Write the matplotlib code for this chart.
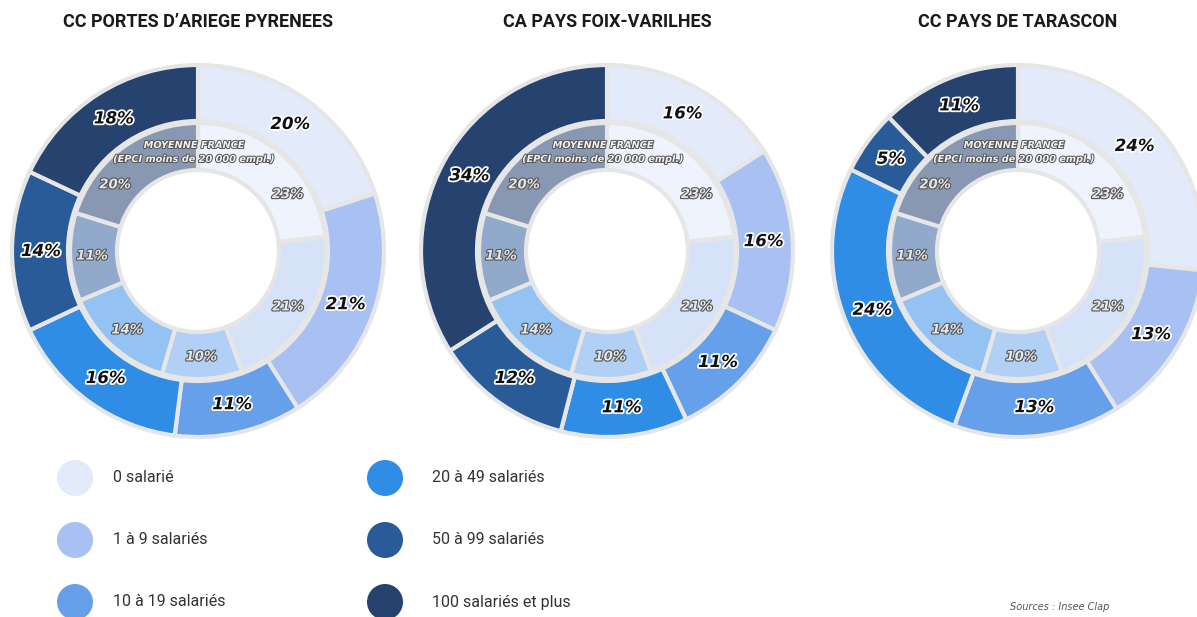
import matplotlib.pyplot as plt
import matplotlib.patheffects as pe
from matplotlib.patches import Circle
import numpy as np

W, H = 1197, 617

# categories and colours (outer ring = EPCI, inner ring = moyenne France)
categories = ["0 salarié", "1 à 9 salariés", "10 à 19 salariés",
              "20 à 49 salariés", "50 à 99 salariés", "100 salariés et plus"]
outer_colors = ["#e3eafa", "#a9c1f2", "#67a0ea", "#2f8de6", "#295b98", "#25436e"]
inner_colors = ["#eef3fd", "#d6e2f8", "#b2cff5", "#94c3f3", "#91aacb", "#8898b2"]

france = [23, 21, 10, 14, 11, 20]

titles = ["CC PORTES D’ARIEGE PYRENEES", "CA PAYS FOIX-VARILHES", "CC PAYS DE TARASCON"]
portes = [20, 21, 11, 16, 14, 18]
foix = [16, 16, 11, 11, 12, 34]
tarascon = [24, 13, 13, 24, 5, 11]

edge = "#e6e6e6"

fig = plt.figure(figsize=(W / 100, H / 100), dpi=100)
ax = fig.add_axes([0, 0, 1, 1])


def py(y):
    # pixel row -> data y (y axis goes up)
    return H - y


def put_labels(wedges, values, c, r, shifts=None, **kw):
    for i, (w, v) in enumerate(zip(wedges, values)):
        mid = (w.theta1 + w.theta2) / 2
        if shifts:
            mid += shifts.get(i, 0)
        a = np.deg2rad(mid)
        ax.text(c[0] + r * np.cos(a), c[1] + r * np.sin(a), f"{v}%",
                ha="center", va="center", **kw)


def donut(cx, cy, title, values):
    c = (cx, py(cy))
    wo, _ = ax.pie(values, colors=outer_colors, radius=186, center=c,
                   startangle=90, counterclock=False,
                   wedgeprops=dict(width=56, edgecolor=edge, linewidth=3))
    wi, _ = ax.pie(france, colors=inner_colors, radius=128, center=c,
                   startangle=90, counterclock=False,
                   wedgeprops=dict(width=47, edgecolor=edge, linewidth=3))

    put_labels(wo, values, c, 157, fontsize=12, fontweight="bold", style="italic",
               color="#111111",
               path_effects=[pe.withStroke(linewidth=2.5, foreground="white")])
    # top inner labels pushed aside to leave room for the caption
    put_labels(wi, france, c, 106, shifts={0: -16, 5: 15},
               fontsize=9.5, fontweight="bold", style="italic",
               color="#e6e6e6",
               path_effects=[pe.withStroke(linewidth=1.6, foreground="#555555")])

    ax.text(cx - 4, py(cy - 106), "MOYENNE FRANCE", ha="center", va="center",
            fontsize=7, fontweight="bold", style="italic", color="#f0f0f0",
            path_effects=[pe.withStroke(linewidth=1.4, foreground="#555555")])
    ax.text(cx - 4, py(cy - 92), "(EPCI moins de 20 000 empl.)", ha="center",
            va="center", fontsize=7, fontweight="bold", style="italic",
            color="#f0f0f0",
            path_effects=[pe.withStroke(linewidth=1.4, foreground="#555555")])

    ax.text(cx, py(22), title, ha="center", va="center", fontsize=13,
            family=["Roboto", "DejaVu Sans"], fontweight="bold", color="#1a1a1a")


donut(198, 251, titles[0], portes)
donut(607, 251, titles[1], foix)
donut(1018, 251, titles[2], tarascon)

# legend
leg_x = [75, 385]
txt_x = [113, 432]
leg_y = [478, 540, 602]
for i, (lab, col) in enumerate(zip(categories, outer_colors)):
    y = leg_y[i % 3]
    ax.add_patch(Circle((leg_x[i // 3], py(y)), 18, facecolor=col, edgecolor="none"))
    ax.text(txt_x[i // 3], py(y), lab, ha="left", va="center", fontsize=11.5,
            family=["Roboto", "DejaVu Sans"], color="#333333")

ax.text(1060, py(607), "Sources : Insee Clap", ha="center", va="center",
        fontsize=7, style="italic", color="#555555")

ax.set_xlim(0, W)
ax.set_ylim(0, H)
ax.set_aspect("equal")
ax.axis("off")

fig.savefig("out.png", dpi=100)
